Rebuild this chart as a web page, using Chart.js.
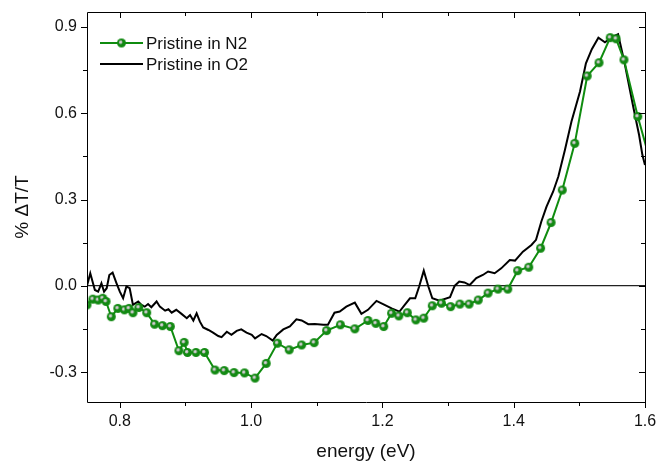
<!DOCTYPE html>
<html>
<head>
<meta charset="utf-8">
<script src="https://cdn.jsdelivr.net/npm/chart.js@4.4.1/dist/chart.umd.min.js"></script>
<style>
  html, body { margin: 0; padding: 0; background: #fff; }
  #wrap { width: 659px; height: 465px; }
</style>
</head>
<body>
<div id="wrap"><canvas id="chart" width="659" height="465"></canvas></div>
<script>
// Pristine in N2 (green, with markers)
const n2Energy = [0.750, 0.759, 0.767, 0.774, 0.779, 0.787, 0.797, 0.807, 0.814, 0.820,
  0.829, 0.841, 0.853, 0.865, 0.877, 0.890, 0.898, 0.903, 0.916, 0.929,
  0.945, 0.959, 0.974, 0.990, 1.006, 1.023, 1.040, 1.058, 1.077, 1.096,
  1.115, 1.136, 1.158, 1.178, 1.190, 1.202, 1.214, 1.225, 1.238, 1.251,
  1.263, 1.276, 1.290, 1.304, 1.318, 1.332, 1.346, 1.361, 1.376, 1.391,
  1.406, 1.423, 1.441, 1.457, 1.474, 1.493, 1.512, 1.530, 1.547, 1.556,
  1.568, 1.589, 1.612];
const n2Signal = [-0.066, -0.046, -0.049, -0.043, -0.054, -0.107, -0.078, -0.083, -0.078, -0.093,
  -0.075, -0.093, -0.133, -0.138, -0.141, -0.225, -0.196, -0.231, -0.231, -0.231,
  -0.292, -0.294, -0.301, -0.302, -0.320, -0.269, -0.199, -0.222, -0.205, -0.197,
  -0.155, -0.135, -0.149, -0.120, -0.130, -0.141, -0.095, -0.104, -0.093, -0.118,
  -0.112, -0.069, -0.060, -0.072, -0.063, -0.063, -0.049, -0.025, -0.011, -0.011,
  0.053, 0.065, 0.131, 0.220, 0.333, 0.495, 0.729, 0.775, 0.862, 0.858,
  0.785, 0.588, 0.40];

// Pristine in O2 (black line)
const o2Energy = [0.749, 0.755, 0.762, 0.767, 0.772, 0.776, 0.780, 0.784, 0.789, 0.795,
  0.800, 0.805, 0.810, 0.815, 0.820, 0.828, 0.833, 0.838, 0.843, 0.848,
  0.856, 0.861, 0.869, 0.874, 0.879, 0.886, 0.894, 0.902, 0.907, 0.912,
  0.917, 0.922, 0.927, 0.935, 0.942, 0.950, 0.955, 0.963, 0.970, 0.978,
  0.985, 0.993, 1.001, 1.006, 1.016, 1.023, 1.033, 1.039, 1.049, 1.059,
  1.069, 1.077, 1.087, 1.097, 1.110, 1.117, 1.127, 1.135, 1.145, 1.158,
  1.168, 1.178, 1.191, 1.201, 1.214, 1.226, 1.234, 1.242, 1.250, 1.256,
  1.263, 1.270, 1.276, 1.287, 1.303, 1.310, 1.317, 1.325, 1.333, 1.343,
  1.353, 1.361, 1.371, 1.381, 1.394, 1.402, 1.414, 1.427, 1.434, 1.442,
  1.450, 1.460, 1.468, 1.478, 1.488, 1.501, 1.510, 1.519, 1.529, 1.539,
  1.549, 1.559, 1.569, 1.582, 1.591, 1.596, 1.600];
const o2Signal = [-0.008, 0.044, -0.014, -0.020, 0.009, -0.020, -0.008, 0.038, 0.046, 0.009,
  -0.020, -0.043, -0.002, -0.008, -0.066, -0.054, -0.066, -0.072, -0.063, -0.074,
  -0.054, -0.072, -0.086, -0.081, -0.093, -0.083, -0.097, -0.112, -0.101, -0.120,
  -0.095, -0.124, -0.144, -0.153, -0.162, -0.174, -0.178, -0.159, -0.170, -0.156,
  -0.151, -0.162, -0.170, -0.182, -0.167, -0.174, -0.190, -0.170, -0.151, -0.141,
  -0.116, -0.120, -0.133, -0.132, -0.135, -0.135, -0.093, -0.089, -0.072, -0.058,
  -0.097, -0.083, -0.052, -0.063, -0.078, -0.089, -0.066, -0.043, -0.043, -0.002,
  0.053, -0.002, -0.043, -0.051, -0.039, 0.000, 0.015, 0.012, 0.003, 0.027,
  0.038, 0.050, 0.044, 0.061, 0.090, 0.088, 0.119, 0.142, 0.160, 0.223,
  0.275, 0.327, 0.380, 0.472, 0.571, 0.675, 0.773, 0.822, 0.862, 0.846,
  0.863, 0.874, 0.773, 0.623, 0.524, 0.455, 0.420];

// axis ticks
const xTicks = [0.8, 1.0, 1.2, 1.4, 1.6];
const xMinorTicks = [0.9, 1.1, 1.3, 1.5];
const yTicks = [-0.3, 0.0, 0.3, 0.6, 0.9];
const yMinorTicks = [-0.15, 0.15, 0.45, 0.75];

const FONT = "'Liberation Sans', Arial, Helvetica, sans-serif";

// shaded green ball used as the N2 marker
function ball(r) {
  const c = document.createElement("canvas");
  c.width = c.height = 2 * r + 2;
  const g = c.getContext("2d");
  const m = r + 1;
  g.beginPath();
  g.arc(m, m, r, 0, Math.PI * 2);
  g.fillStyle = "#138a13";
  g.fill();
  const hl = g.createRadialGradient(m - 0.8, m - 0.8, 0, m - 0.8, m - 0.8, r * 0.55);
  hl.addColorStop(0, "#e8e8e8");
  hl.addColorStop(0.6, "#a9b0a9");
  hl.addColorStop(1, "rgba(19,138,19,0)");
  g.beginPath();
  g.arc(m - 0.8, m - 0.8, r * 0.55, 0, Math.PI * 2);
  g.fillStyle = hl;
  g.fill();
  return c;
}
const marker = ball(4.5);

// frame with ticks: out on bottom/left, in on top/right
const frame = {
  id: "frame",
  afterDatasetsDraw(chart) {
    const { ctx, chartArea: a, scales: { x, y } } = chart;
    ctx.save();
    ctx.strokeStyle = "#000";
    ctx.lineWidth = 1;
    ctx.beginPath();
    ctx.rect(Math.round(a.left) + 0.5, Math.round(a.top) + 0.5,
      Math.round(a.right - a.left), Math.round(a.bottom - a.top));
    const tickX = (v, len) => {
      const p = Math.round(x.getPixelForValue(v)) + 0.5;
      ctx.moveTo(p, a.bottom); ctx.lineTo(p, a.bottom + len);
      ctx.moveTo(p, a.top); ctx.lineTo(p, a.top + len);
    };
    const tickY = (v, len) => {
      const p = Math.round(y.getPixelForValue(v)) + 0.5;
      ctx.moveTo(a.left, p); ctx.lineTo(a.left - len, p);
      ctx.moveTo(a.right, p); ctx.lineTo(a.right - len, p);
    };
    xTicks.forEach(v => tickX(v, 6));
    xMinorTicks.forEach(v => tickX(v, 4));
    yTicks.forEach(v => tickY(v, 6));
    yMinorTicks.forEach(v => tickY(v, 4));
    ctx.stroke();
    ctx.restore();
  }
};

// legend inside the plot, top-left
const insideLegend = {
  id: "insideLegend",
  afterDraw(chart) {
    const { ctx } = chart;
    ctx.save();
    ctx.font = "17px " + FONT;
    ctx.textBaseline = "middle";
    chart.data.datasets.forEach((ds, i) => {
      const yy = 43 + i * 21;
      ctx.strokeStyle = ds.borderColor;
      ctx.lineWidth = 2;
      ctx.beginPath();
      ctx.moveTo(100, yy); ctx.lineTo(143, yy);
      ctx.stroke();
      if (ds.pointStyle instanceof HTMLCanvasElement) {
        ctx.drawImage(ds.pointStyle, 121.5 - ds.pointStyle.width / 2, yy - ds.pointStyle.height / 2);
      }
      ctx.fillStyle = "#111";
      ctx.fillText(ds.label, 146, yy + 1);
    });
    ctx.restore();
  }
};

new Chart(document.getElementById("chart"), {
  type: "line",
  data: {
    datasets: [
      {
        label: "Pristine in N2",
        data: n2Energy.map((e, i) => ({ x: e, y: n2Signal[i] })),
        borderColor: "#0f8c0f",
        borderWidth: 2,
        pointStyle: marker,
        pointRadius: 4.5,
        tension: 0
      },
      {
        label: "Pristine in O2",
        data: o2Energy.map((e, i) => ({ x: e, y: o2Signal[i] })),
        borderColor: "#000",
        borderWidth: 2,
        pointRadius: 0,
        tension: 0
      }
    ]
  },
  options: {
    responsive: false,
    animation: false,
    layout: { padding: { top: 12, right: 14, left: 0, bottom: 0 } },
    plugins: { legend: { display: false }, tooltip: { enabled: false } },
    scales: {
      x: {
        type: "linear",
        min: 0.75,
        max: 1.6,
        afterBuildTicks: s => { s.ticks = xTicks.map(v => ({ value: v })); },
        afterFit: s => { s.height = 63; s.paddingLeft = 0; s.paddingRight = 0; },
        grid: { display: false, drawTicks: false },
        border: { display: false },
        ticks: {
          padding: 10,
          color: "#111",
          font: { family: FONT, size: 16 },
          callback: v => v.toFixed(1)
        },
        title: {
          display: true,
          text: "energy (eV)",
          color: "#111",
          font: { family: FONT, size: 19 },
          padding: { top: 0, bottom: 2 }
        }
      },
      y: {
        type: "linear",
        min: -0.403,
        max: 0.951,
        afterBuildTicks: s => { s.ticks = yTicks.map(v => ({ value: v })); },
        afterFit: s => { s.width = 87; s.paddingTop = 0; s.paddingBottom = 0; },
        grid: {
          drawTicks: false,
          color: c => (c.tick && c.tick.value === 0 ? "#222" : "rgba(0,0,0,0)"),
          lineWidth: 1.3
        },
        border: { display: false },
        ticks: {
          padding: 10,
          color: "#111",
          font: { family: FONT, size: 16 },
          callback: v => v.toFixed(1)
        },
        title: {
          display: true,
          text: "% \u0394T/T",
          color: "#111",
          font: { family: FONT, size: 19 },
          padding: { top: 11, bottom: 0 }
        }
      }
    }
  },
  plugins: [frame, insideLegend]
});
</script>
</body>
</html>
